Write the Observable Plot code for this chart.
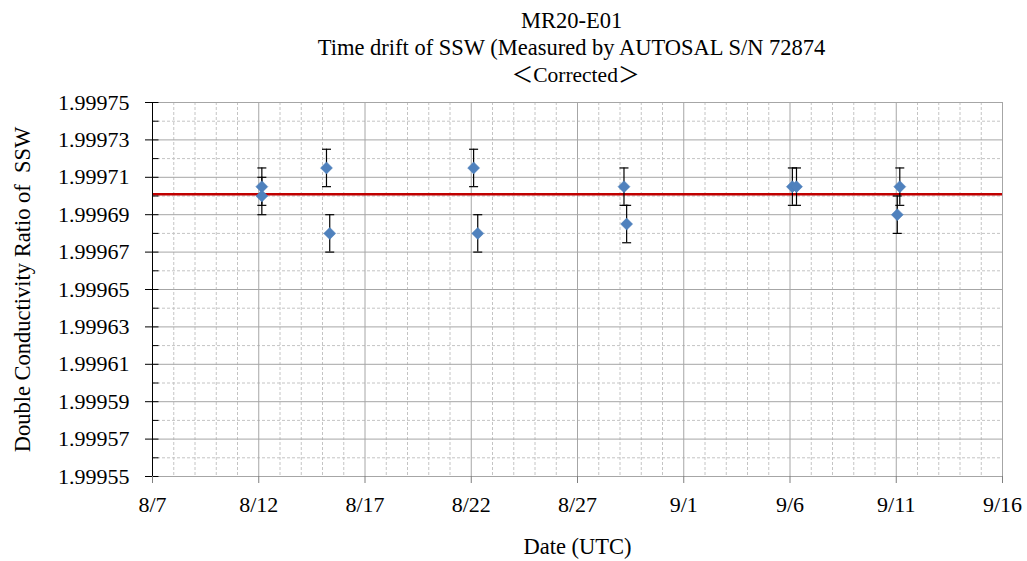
<!DOCTYPE html>
<html>
<head>
<meta charset="utf-8">
<script src="https://cdn.jsdelivr.net/npm/d3@7"></script>
<script src="https://cdn.jsdelivr.net/npm/@observablehq/plot@0.6"></script>
<style>
  html, body { margin: 0; padding: 0; background: white; }
  #chart { width: 1027px; height: 561px; }
  #chart svg, #chart svg text { font-family: "Liberation Serif", "Noto Sans CJK JP", serif !important; }
</style>
</head>
<body>
<div id="chart"></div>
<script>
// ---- data ----
const titleLines = ["MR20-E01", "Time drift of SSW (Measured by AUTOSAL S/N 72874", "＜Corrected＞"];
const yLabel = "Double Conductivity Ratio of  SSW";
const xLabel = "Date (UTC)";

const sampleTimes = [
  "2020-08-12T03:30Z", "2020-08-12T03:30Z",
  "2020-08-15T04:30Z", "2020-08-15T08:10Z",
  "2020-08-22T02:40Z", "2020-08-22T07:20Z",
  "2020-08-29T04:30Z", "2020-08-29T07:30Z",
  "2020-09-06T02:40Z", "2020-09-06T07:20Z",
  "2020-09-11T04:00Z", "2020-09-11T01:10Z"
];
const sampleValues = [
  1.999705, 1.999700,
  1.999715, 1.999680,
  1.999715, 1.999680,
  1.999705, 1.999685,
  1.999705, 1.999705,
  1.999705, 1.999690
];
const sampleErrors = [
  0.00001, 0.00001, 0.00001, 0.00001, 0.00001, 0.00001,
  0.00001, 0.00001, 0.00001, 0.00001, 0.00001, 0.00001
];
const referenceValue = 1.999701;

const xDomain = ["2020-08-07", "2020-09-16"];
const xTickDates = ["2020-08-07", "2020-08-12", "2020-08-17", "2020-08-22", "2020-08-27",
                    "2020-09-01", "2020-09-06", "2020-09-11", "2020-09-16"];
const yTicksMajor = [1.99955, 1.99957, 1.99959, 1.99961, 1.99963, 1.99965,
                     1.99967, 1.99969, 1.99971, 1.99973, 1.99975];
const yTicksMinor = [1.99956, 1.99958, 1.99960, 1.99962, 1.99964,
                     1.99966, 1.99968, 1.99970, 1.99972, 1.99974];

// ---- build ----
const data = sampleTimes.map((t, i) => ({
  date: new Date(t), v: sampleValues[i], lo: sampleValues[i] - sampleErrors[i], hi: sampleValues[i] + sampleErrors[i]
}));
const xStart = new Date(xDomain[0] + "T00:00Z"), xEnd = new Date(xDomain[1] + "T00:00Z");
const xMajor = xTickDates.map(d => new Date(d + "T00:00Z"));
const xMinor = d3.utcDay.range(xStart, xEnd).filter(d => !xMajor.some(m => +m === +d));
const yAll = yTicksMajor.concat(yTicksMinor);

const capSymbol = { draw(ctx) { ctx.moveTo(-4.5, 0); ctx.lineTo(4.5, 0); } };
const innerTick = { draw(ctx) { ctx.moveTo(0, 0); ctx.lineTo(6, 0); } };

const serif = "\"Liberation Serif\", \"Noto Sans CJK JP\", serif";

const chart = Plot.plot({
  width: 1027,
  height: 561,
  marginLeft: 152,
  marginRight: 25,
  marginTop: 102,
  marginBottom: 85,
  style: { fontFamily: serif, fontSize: "22px", background: "white", color: "black", overflow: "visible" },
  x: { type: "utc", domain: [xStart, xEnd] },
  y: { domain: [1.99955, 1.99975] },
  marks: [
    // minor grid
    Plot.ruleX(xMinor, { stroke: "#c4c4c4", strokeDasharray: "3,2", strokeWidth: 1 }),
    Plot.ruleY(yTicksMinor, { stroke: "#c4c4c4", strokeDasharray: "3,2", strokeWidth: 1 }),
    // major grid
    Plot.ruleX(xMajor, { stroke: "#a6a6a6", strokeWidth: 1 }),
    Plot.ruleY(yTicksMajor, { stroke: "#a6a6a6", strokeWidth: 1 }),
    // reference line
    Plot.ruleY([referenceValue], { stroke: "#c00000", strokeWidth: 2.5 }),
    // error bars
    Plot.ruleX(data, { x: "date", y1: "lo", y2: "hi", stroke: "black", strokeWidth: 1.2 }),
    Plot.dot(data, { x: "date", y: "lo", symbol: capSymbol, r: 3, stroke: "black", fill: "none", strokeWidth: 1.2 }),
    Plot.dot(data, { x: "date", y: "hi", symbol: capSymbol, r: 3, stroke: "black", fill: "none", strokeWidth: 1.2 }),
    // points
    Plot.dot(data, { x: "date", y: "v", symbol: "diamond2", r: 5.4, fill: "#4f81bd", stroke: "#4a7ebb", strokeWidth: 0.5 }),
    // axes
    Plot.axisY({ ticks: yTicksMajor, tickFormat: d3.format(".5f"), tickSize: 7, tickPadding: 16, label: null, stroke: "black", fontSize: 22 }),
    Plot.dot(yAll, { y: d => d, frameAnchor: "left", symbol: innerTick, r: 3, stroke: "black", fill: "none", strokeWidth: 1 }),
    Plot.ruleX([xStart], { stroke: "black", strokeWidth: 1 }),
    Plot.axisX({ ticks: xMajor, tickFormat: d3.utcFormat("%-m/%-d"), tickSize: 7, tickPadding: 13, label: null, stroke: "#7f7f7f", fontSize: 22 }),
    // titles
    Plot.text([titleLines[0]], { frameAnchor: "top", dx: -6, dy: -90, fontSize: 22.5 }),
    Plot.text([titleLines[1]], { frameAnchor: "top", dx: -6, dy: -63, fontSize: 22.5 }),
    Plot.text([titleLines[2]], { frameAnchor: "top", dx: -2, dy: -36, fontSize: 21.5 }),
    Plot.text([yLabel], { frameAnchor: "left", textAnchor: "middle", dx: -130, rotate: -90, fontSize: 22.5 }),
    Plot.text([xLabel], { frameAnchor: "bottom", dy: 77, fontSize: 22.5 })
  ]
});
document.getElementById("chart").appendChild(chart);
</script>
</body>
</html>
